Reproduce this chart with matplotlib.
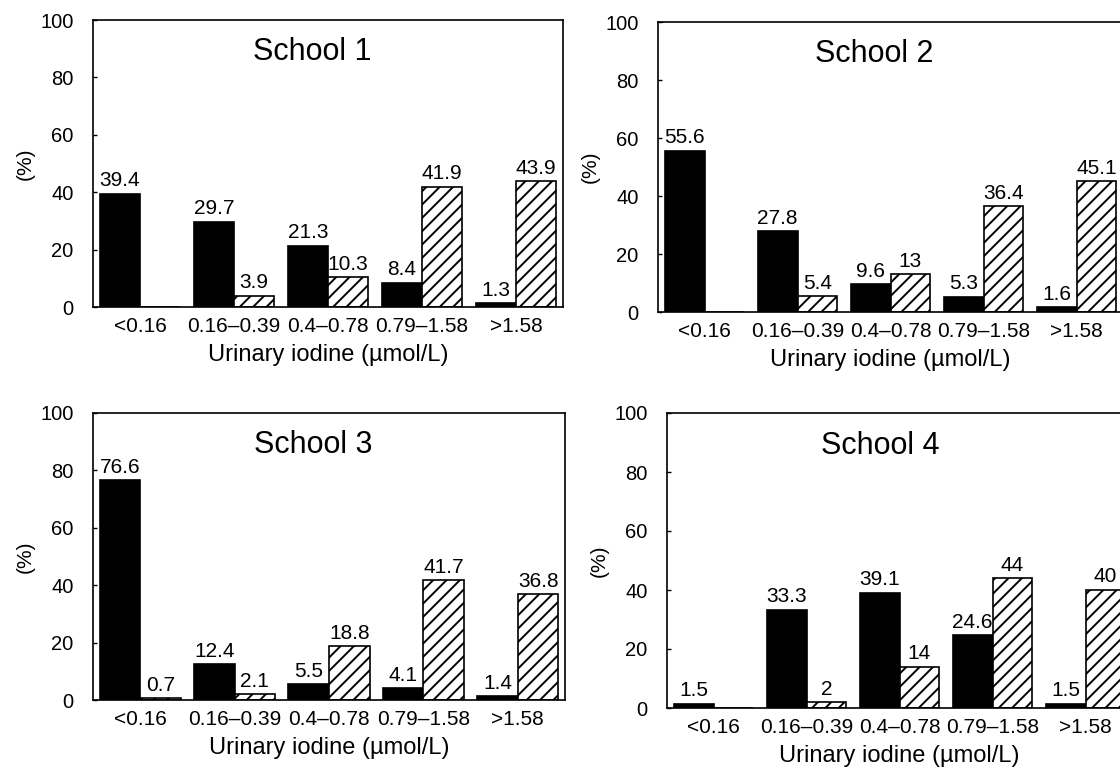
import matplotlib
matplotlib.use("Agg")
import matplotlib.pyplot as plt
import numpy as np

plt.rcParams['font.family'] = ['Liberation Sans', 'DejaVu Sans']

categories = ["<0.16", "0.16\u20130.39", "0.4\u20130.78", "0.79\u20131.58", ">1.58"]
schools = ["School 1", "School 2", "School 3", "School 4"]

black_s1 = [39.4, 29.7, 21.3, 8.4, 1.3]
hatch_s1 = [0, 3.9, 10.3, 41.9, 43.9]
black_s2 = [55.6, 27.8, 9.6, 5.3, 1.6]
hatch_s2 = [0, 5.4, 13, 36.4, 45.1]
black_s3 = [76.6, 12.4, 5.5, 4.1, 1.4]
hatch_s3 = [0.7, 2.1, 18.8, 41.7, 36.8]
black_s4 = [1.5, 33.3, 39.1, 24.6, 1.5]
hatch_s4 = [0, 2, 14, 44, 40]

black_series = [black_s1, black_s2, black_s3, black_s4]
hatch_series = [hatch_s1, hatch_s2, hatch_s3, hatch_s4]

yticks = [0, 20, 40, 60, 80, 100]
xlabel = "Urinary iodine (\u00b5mol/L)"
ylabel = "(%)"

W, H = 1120, 772
DPI = 80
S = 100 / DPI  # sizes below are given for 100 dpi, scaled to points at 80 dpi
plt.rcParams['hatch.linewidth'] = 1.4 * S

fig = plt.figure(figsize=(W / DPI, H / DPI), dpi=DPI)

# axes boxes in pixels: left, top, right, bottom
boxes = [
    (93, 20, 563, 307),
    (658, 22, 1123, 312),
    (93, 413, 565, 700),
    (667, 413, 1132, 708),
]
title_x = [0.466, 0.465, 0.466, 0.458]

w = 0.43
x = np.arange(len(categories))

for i, (l, t, r, b) in enumerate(boxes):
    ax = fig.add_axes([l / W, 1 - b / H, (r - l) / W, (b - t) / H])
    bv = black_series[i]
    hv = hatch_series[i]
    ax.bar(x - w / 2, bv, width=w, color='black', edgecolor='black', linewidth=1.2 * S)
    ax.bar(x + w / 2, hv, width=w, color='white', edgecolor='black', linewidth=1.2 * S,
           hatch='//')
    for xi, v in zip(x - w / 2, bv):
        if v > 0:
            ax.text(xi, v + 1.2, f"{v:g}", ha='center', va='bottom', fontsize=15 * S)
    for xi, v in zip(x + w / 2, hv):
        if v > 0:
            ax.text(xi, v + 1.2, f"{v:g}", ha='center', va='bottom', fontsize=15 * S)
    ax.set_xlim(-0.5, len(categories) - 0.5)
    ax.set_ylim(0, 100)
    ax.set_yticks(yticks)
    ax.set_xticks(x)
    ax.set_xticklabels(categories, fontsize=15 * S)
    ax.tick_params(axis='x', length=0, pad=7 * S)
    ax.tick_params(axis='y', direction='in', length=3 * S, width=1 * S, pad=14 * S,
                   labelsize=14.5 * S)
    ax.set_xlabel(xlabel, fontsize=17 * S, labelpad=6 * S)
    ax.set_ylabel(ylabel, fontsize=15 * S, labelpad=4 * S)
    ax.text(title_x[i], 0.888, schools[i], transform=ax.transAxes, ha='center',
            va='center', fontsize=22 * S)
    for s in ax.spines.values():
        s.set_linewidth(1.2 * S)

fig.savefig("out.png", dpi=DPI)
